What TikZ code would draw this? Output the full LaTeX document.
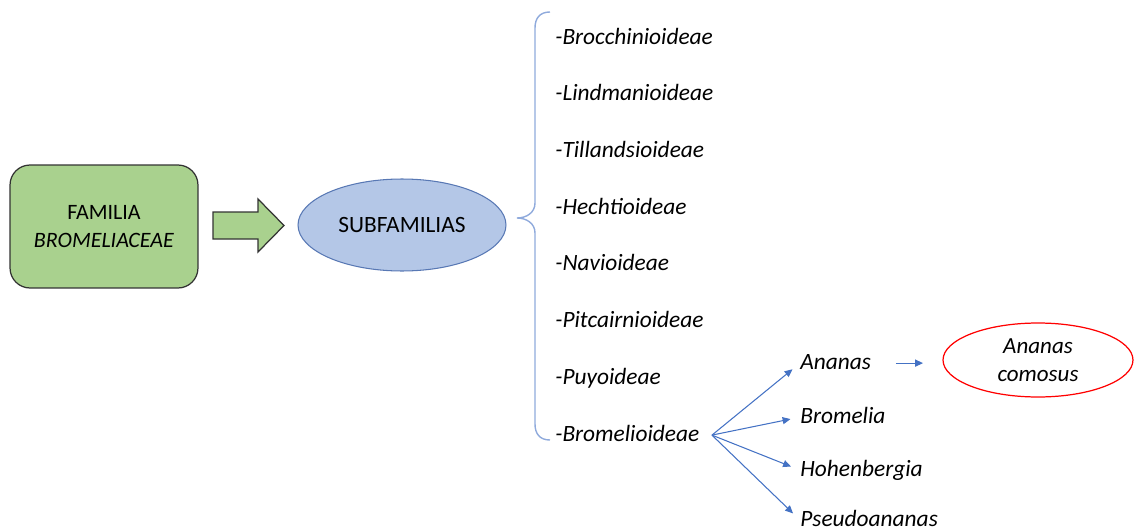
\documentclass[tikz,border=0pt]{standalone}
\usepackage{fontspec}
\setmainfont{Carlito}
\usepackage{tikz}
\usetikzlibrary{shapes.geometric,arrows.meta}
\definecolor{famgreen}{HTML}{A9D18E}
\definecolor{subblue}{HTML}{B4C7E7}
\definecolor{subedge}{HTML}{5878B4}
\definecolor{linkblue}{HTML}{4472C4}
\definecolor{bracecol}{HTML}{8FAADC}
\tikzstyle{familybox} = [draw=black!80, fill=famgreen, line width=0.7pt,
    rectangle, rounded corners=0.4cm, minimum width=3.76cm, minimum height=2.46cm,
    align=center, font=\fontsize{12.5}{16}\selectfont]
\tikzstyle{subellipse} = [draw=subedge, fill=subblue, line width=0.6pt, ellipse,
    minimum width=4.16cm, minimum height=1.84cm, inner sep=0pt,
    font=\fontsize{13.3}{16}\selectfont]
\tikzstyle{taxon} = [anchor=base west, inner sep=0pt, text height=10pt, text depth=3.3pt,
    font=\fontsize{13.3}{16}\selectfont\itshape]
\tikzstyle{speciesbox} = [draw=red, line width=0.7pt, ellipse, minimum width=3.8cm,
    minimum height=1.48cm, inner sep=0pt, align=center,
    font=\fontsize{13.1}{16}\selectfont\itshape]
\tikzstyle{genarrow} = [draw=linkblue, line width=0.6pt,
    -{Triangle[length=4.5pt,width=4pt]}, shorten >=5.5pt]

\begin{document}
\begin{tikzpicture}[x=0.02cm, y=-0.02cm]
                \useasboundingbox (0,0) rectangle (1134,531);
                % family and subfamilies
                \node [familybox] (familia) at (104,226.5) {FAMILIA\\\textit{BROMELIACEAE}};
                \draw [draw=black!80, fill=famgreen, line width=0.7pt]
                    (213,212) -- (258,212) -- (258,199) -- (284,225.5) -- (258,252)
                    -- (258,239) -- (213,239) -- cycle;
                \node [subellipse] (subfam) at (402,225) {SUBFAMILIAS};
                % brace
                \draw [bracecol, line width=0.8pt]
                    (550,12) .. controls (540,12) and (535,18) .. (535,28) -- (535,203)
                    .. controls (535,213) and (526,218) .. (517,218)
                    .. controls (526,218) and (535,223) .. (535,233) -- (535,424)
                    .. controls (535,434) and (540,440) .. (550,440);
                % subfamilies list
                \node [taxon] (broc) at (555,44) {-Brocchinioideae};
                \node [taxon] (lind) at (555,100.7) {-Lindmanioideae};
                \node [taxon] (till) at (555,157.4) {-Tillandsioideae};
                \node [taxon] (hech) at (555,214.1) {-Hechtioideae};
                \node [taxon] (navi) at (555,270.9) {-Navioideae};
                \node [taxon] (pitc) at (555,327.6) {-Pitcairnioideae};
                \node [taxon] (puyo) at (555,384.3) {-Puyoideae};
                \node [taxon] (brom) at (555,441) {-Bromelioideae};
                % genera
                \node [taxon] (ananas) at (800,369) {Ananas};
                \node [taxon] (bromelia) at (800,423) {Bromelia};
                \node [taxon] (hohen) at (800,476) {Hohenbergia};
                \node [taxon] (pseudo) at (800,526) {Pseudoananas};
                \coordinate (fork) at ([xshift=7pt]brom.east);
                \draw [genarrow] (fork) -- (ananas.west);
                \draw [genarrow] (fork) -- (bromelia.west);
                \draw [genarrow] (fork) -- (hohen.west);
                \draw [genarrow] (fork) -- (pseudo.west);
                % species
                \node [speciesbox] (comosus) at (1038,360) {Ananas\\comosus};
                \draw [genarrow, shorten <=14pt, shorten >=11pt] (ananas.east) -- (ananas.east -| comosus.west);
            \end{tikzpicture}
\end{document}
